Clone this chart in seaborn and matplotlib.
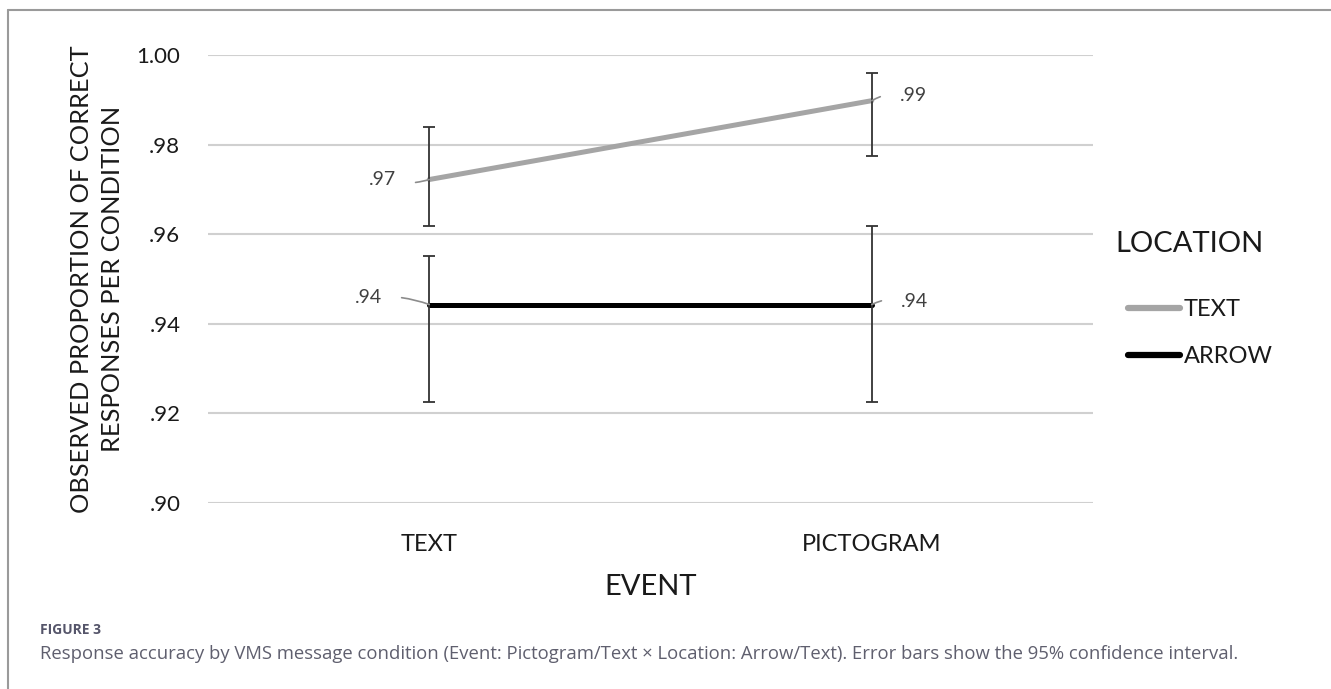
import pandas as pd
import numpy as np
import matplotlib.pyplot as plt
import seaborn as sns
from matplotlib.lines import Line2D

# values
events = ['TEXT', 'PICTOGRAM']
loc_text = [0.9722, 0.9898]
loc_arrow = [0.9443, 0.9443]
text_lo = [0.9618, 0.9775]
text_hi = [0.9840, 0.9960]
arrow_lo = [0.9225, 0.9225]
arrow_hi = [0.9551, 0.9618]
point_labels_text = ['.97', '.99']
point_labels_arrow = ['.94', '.94']
yticks = [0.90, 0.92, 0.94, 0.96, 0.98, 1.00]
ytick_labels = ['.90', '.92', '.94', '.96', '.98', '1.00']

df = pd.DataFrame({
    'event': events * 2,
    'location': ['TEXT'] * 2 + ['ARROW'] * 2,
    'prop': loc_text + loc_arrow,
})

sns.set_style('white')
plt.rcParams['font.family'] = ['Lato', 'DejaVu Sans']

fig = plt.figure(figsize=(13.31, 6.89), dpi=100)
ax = fig.add_axes([0.1563, 0.270, 0.6649, 0.6502])

pal = {'TEXT': '#a5a5a5', 'ARROW': '#000000'}
sns.lineplot(data=df, x='event', y='prop', hue='location', hue_order=['TEXT', 'ARROW'],
             palette=pal, linewidth=3.6, ax=ax, sort=False)

# error bars (95% CI)
xs = np.arange(len(events))
for vals, lo, hi in [(loc_text, text_lo, text_hi), (loc_arrow, arrow_lo, arrow_hi)]:
    vals = np.array(vals)
    err = [vals - np.array(lo), np.array(hi) - vals]
    ax.errorbar(xs, vals, yerr=err, fmt='none', ecolor='#333333', elinewidth=1.3,
                capsize=4.5, capthick=1.3, zorder=5)

# data labels with leader lines
def lab(x, y, s, dx, dy, rad):
    ax.annotate(s, xy=(x, y), xytext=(dx, dy), textcoords='offset points',
                ha='center', va='center', fontsize=14, color='#404040',
                arrowprops=dict(arrowstyle='-', color='#8c8c8c', lw=1.2,
                                shrinkA=12, shrinkB=0,
                                connectionstyle='arc3,rad=%s' % rad), zorder=6)

lab(0, loc_text[0], point_labels_text[0], -34, 0, 0.15)
lab(1, loc_text[1], point_labels_text[1], 30, 4, 0.2)
lab(0, loc_arrow[0], point_labels_arrow[0], -44, 5, -0.12)
lab(1, loc_arrow[1], point_labels_arrow[1], 31, 2, 0.2)

ax.set_xlim(-0.5, 1.5)
ax.set_ylim(0.90, 1.00)
ax.set_yticks(yticks)
ax.set_yticklabels(ytick_labels)
ax.grid(axis='y', color='#d0d0d0', linewidth=1.5)
ax.set_axisbelow(True)
for s in ax.spines.values():
    s.set_visible(False)
ax.tick_params(axis='y', length=0, pad=20, labelsize=16, labelcolor='#1a1a1a')
ax.tick_params(axis='x', length=0, pad=22, labelsize=17, labelcolor='#1a1a1a')
ax.set_xlabel('EVENT', fontsize=21, labelpad=14, color='#1a1a1a')
ax.set_ylabel('OBSERVED PROPORTION OF CORRECT\nRESPONSES PER CONDITION', fontsize=18.3,
              labelpad=9, color='#1a1a1a', linespacing=1.42)

# legend: title as separate text so entries sit indented like the original
fig.text(1115 / 1331, 1 - 244 / 689, 'LOCATION', fontsize=21, color='#1a1a1a',
         ha='left', va='center')
leg = ax.legend(loc='upper left', bbox_to_anchor=(1128 / 1331, 1 - 299 / 689),
                bbox_transform=fig.transFigure, frameon=False, fontsize=17,
                handlelength=2.2, handletextpad=0.15, labelspacing=1.12,
                borderaxespad=0, borderpad=0)
for h in leg.get_lines():
    h.set_linewidth(4.5)
    h.set_solid_capstyle('round')
for t in leg.get_texts():
    t.set_color('#1a1a1a')

# outer frame of the figure panel
fig.add_artist(Line2D([8 / 1331, 8 / 1331], [0, 1 - 10 / 689], color='#9a9a9a', lw=1.5))
fig.add_artist(Line2D([8 / 1331, 1], [1 - 10 / 689, 1 - 10 / 689], color='#9a9a9a', lw=1.5))

# caption
fig.text(40 / 1331, 1 - 630 / 689, 'FIGURE 3', fontsize=10, color='#55556a',
         va='center', weight='bold', family=['Open Sans', 'DejaVu Sans'])
fig.text(40 / 1331, 1 - 654 / 689,
         'Response accuracy by VMS message condition (Event: Pictogram/Text \u00d7 Location: Arrow/Text). '
         'Error bars show the 95% confidence interval.',
         fontsize=13.3, color='#5f5f6e', va='center', family=['Open Sans', 'DejaVu Sans'])

fig.savefig('out.png', dpi=100)
